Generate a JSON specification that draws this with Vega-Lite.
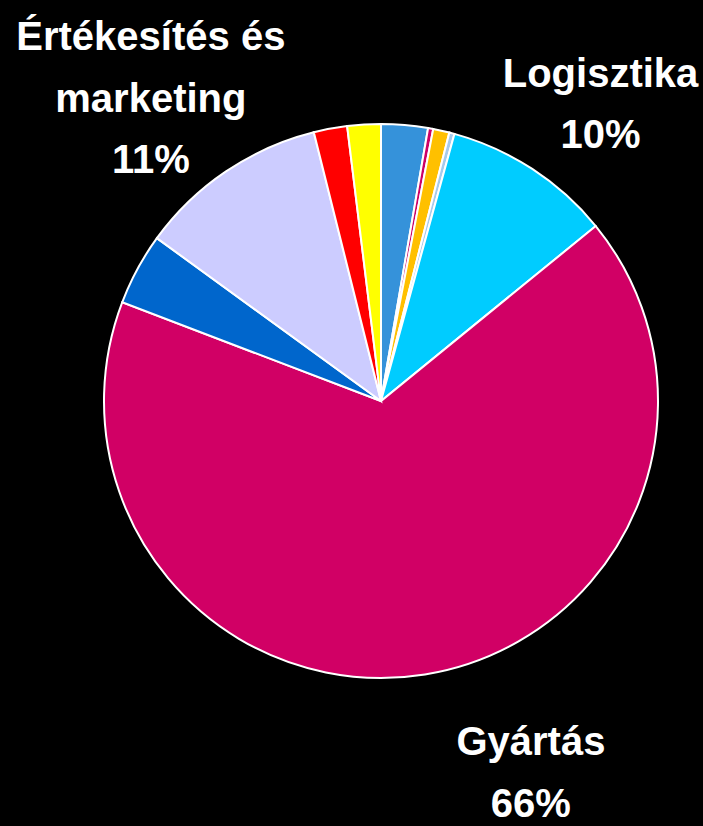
{
  "$schema": "https://vega.github.io/schema/vega-lite/v6.json",
  "autosize": {"type": "none"},
  "width": 644,
  "height": 802,
  "padding": {"left": 59, "top": 0, "right": 0, "bottom": 24},
  "background": "#000000",
  "view": {"stroke": null},
  "data": {
    "values": [
      {"k": "Egyéb 1", "v": 2.72, "o": 1, "label": ""},
      {"k": "Egyéb 2", "v": 0.3, "o": 2, "label": ""},
      {"k": "Egyéb 3", "v": 0.95, "o": 3, "label": ""},
      {"k": "Egyéb 4", "v": 0.3, "o": 4, "label": ""},
      {"k": "Logisztika", "v": 9.85, "o": 5, "label": "Logisztika\n10%"},
      {"k": "Gyártás", "v": 66.68, "o": 6, "label": "Gyártás\n66%"},
      {"k": "Egyéb 5", "v": 4.2, "o": 7, "label": ""},
      {"k": "Értékesítés és marketing", "v": 11.1, "o": 8, "label": "Értékesítés és\nmarketing\n11%"},
      {"k": "Egyéb 6", "v": 1.95, "o": 9, "label": ""},
      {"k": "Egyéb 7", "v": 1.95, "o": 10, "label": ""}
    ]
  },
  "encoding": {
    "theta": {"field": "v", "type": "quantitative", "stack": true},
    "order": {"field": "o", "type": "quantitative", "sort": "ascending"}
  },
  "layer": [
    {
      "mark": {"type": "arc", "outerRadius": 277, "stroke": "#ffffff", "strokeWidth": 2},
      "encoding": {
        "color": {
          "field": "k",
          "type": "nominal",
          "legend": null,
          "scale": {
            "domain": ["Egyéb 1", "Egyéb 2", "Egyéb 3", "Egyéb 4", "Logisztika", "Gyártás", "Egyéb 5", "Értékesítés és marketing", "Egyéb 6", "Egyéb 7"],
            "range": ["#3592DA", "#CC0066", "#FFC000", "#A6CAEC", "#00CCFF", "#D10065", "#0066CC", "#CCCCFF", "#FF0000", "#FFFF00"]
          }
        }
      }
    },
    {
      "mark": {"type": "text", "radius": 369, "dx": 18, "dy": -5, "fill": "#ffffff", "font": "Liberation Sans", "fontWeight": "bold", "fontSize": 40, "lineBreak": "\n", "lineHeight": 61, "align": "center", "baseline": "alphabetic"},
      "encoding": {
        "detail": {"field": "k"},
        "text": {"condition": {"test": "datum.k === 'Logisztika'", "field": "label"}, "value": ""}
      }
    },
    {
      "mark": {"type": "text", "radius": 381, "dx": -17, "dy": -35, "fill": "#ffffff", "font": "Liberation Sans", "fontWeight": "bold", "fontSize": 40, "lineBreak": "\n", "lineHeight": 61.5, "align": "center", "baseline": "alphabetic"},
      "encoding": {
        "detail": {"field": "k"},
        "text": {"condition": {"test": "datum.k === 'Értékesítés és marketing'", "field": "label"}, "value": ""}
      }
    },
    {
      "mark": {"type": "text", "radius": 402, "dx": 86, "dy": -43, "fill": "#ffffff", "font": "Liberation Sans", "fontWeight": "bold", "fontSize": 40, "lineBreak": "\n", "lineHeight": 62, "align": "center", "baseline": "alphabetic"},
      "encoding": {
        "detail": {"field": "k"},
        "text": {"condition": {"test": "datum.k === 'Gyártás'", "field": "label"}, "value": ""}
      }
    }
  ]
}
